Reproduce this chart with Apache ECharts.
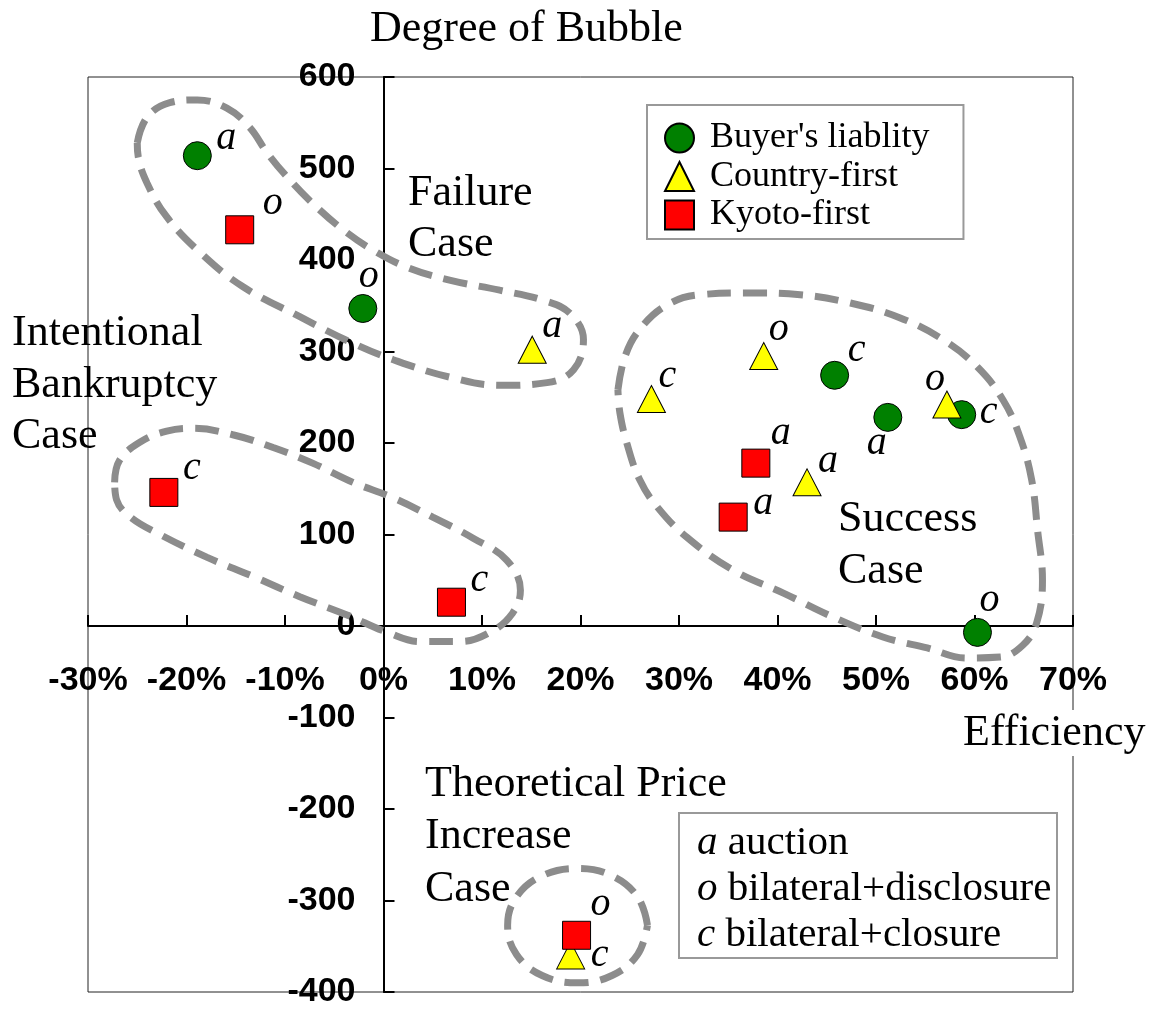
<!DOCTYPE html>
<html>
<head>
<meta charset="utf-8">
<script src="https://cdn.jsdelivr.net/npm/echarts@6/dist/echarts.min.js"></script>
<style>
  html, body { margin: 0; padding: 0; background: #fff; }
  #main { width: 1151px; height: 1012px; }
</style>
</head>
<body>
<div id="main"></div>
<script>
// efficiency (%) and degree of bubble for each rule
var buyerX = [-18.9, -2.1, 45.8, 51.2, 58.7, 60.3];
var buyerY = [514, 347, 274, 228, 231, -7];
var buyerTag = ['a', 'o', 'c', 'a', 'c', 'o'];

var countryX = [15.1, 27.2, 38.6, 43.0, 57.2, 19.0];
var countryY = [302, 248, 295, 157, 242, -360];
var countryTag = ['a', 'c', 'o', 'a', 'o', 'c'];

var kyotoX = [-14.6, -22.3, 6.9, 37.8, 35.5, 19.6];
var kyotoY = [433, 146, 26, 178, 119, -338];
var kyotoTag = ['o', 'c', 'c', 'a', 'a', 'o'];

var seriesNames = ["Buyer's liablity", 'Country-first', 'Kyoto-first'];

// axis ranges
var xMin = -30, xMax = 70, xStep = 10;
var yMin = -400, yMax = 600, yStep = 100;

// where the letter sits next to its marker (px)
var buyerOffsets = [[29, -17], [6, -32], [22, -25], [-11, 26], [27, -2], [12, -32]];
var countryOffsets = [[20, -23], [16, -23], [15, -27], [21, -21], [-12, -25], [29, 0]];
var kyotoOffsets = [[33, -26], [28, -24], [28, -22], [25, -30], [30, -14], [24, -31]];

// dashed outlines round the groups (x %, y)
var outlineFailure = [[-25.0, 528], [-24.0, 556], [-21.7, 572], [-18.9, 575], [-15.9, 566], [-13.6, 545],
  [-11.8, 517], [-9.8, 491], [-7.2, 462], [-4.1, 433], [-1.1, 411], [2.4, 392], [6.7, 378], [11.8, 367],
  [16.2, 356], [18.9, 342], [20.3, 313], [19.3, 280], [16.6, 266], [11.8, 263], [6.7, 272], [1.0, 291],
  [-3.1, 309], [-8.5, 338], [-14.3, 371], [-18.6, 408], [-22.0, 447], [-24.0, 484], [-24.9, 513], [-25.0, 528]];
var outlineBankruptcy = [[-27.3, 157], [-26.8, 181], [-24.7, 201], [-22.0, 213], [-19.3, 216], [-15.3, 209],
  [-11.2, 195], [-7.2, 178], [-3.1, 157], [1.0, 140], [5.0, 119], [9.1, 96], [12.5, 72], [13.9, 39],
  [13.1, 14], [10.8, -7], [7.8, -17], [3.7, -17], [0.4, -7], [-3.7, 12], [-8.5, 32], [-13.2, 54],
  [-17.9, 75], [-22.7, 100], [-25.7, 119], [-27.1, 138], [-27.3, 157]];
var outlineSuccess = [[23.8, 258], [24.5, 294], [26.0, 324], [28.8, 351], [32.1, 362], [37.2, 364],
  [42.3, 362], [47.4, 353], [52.4, 337], [56.8, 313], [60.3, 283], [62.9, 247], [64.6, 207], [65.8, 160],
  [66.4, 105], [66.9, 50], [66.3, 3], [64.9, -21], [62.6, -34], [59.2, -35], [55.2, -24], [50.7, -12],
  [45.6, 10], [40.6, 36], [35.5, 61], [30.8, 97], [27.8, 130], [26.0, 160], [24.7, 200], [24.0, 233], [23.8, 258]];
var outlineTheoretical = [[26.8, -327], [25.8, -296], [23.2, -273], [19.7, -265], [16.1, -273], [13.5, -296],
  [12.6, -327], [13.5, -359], [16.1, -382], [19.7, -390], [23.2, -382], [25.8, -359], [26.8, -327]];

var serif = 'Liberation Serif';
var gridLeft = 88, gridTop = 77, gridW = 985, gridH = 915;

function buildPoints(xs, ys, tags, offsets) {
    var pts = [];
    for (var i = 0; i < xs.length; i++) {
        pts.push({ value: [xs[i], ys[i]], name: tags[i], label: { offset: offsets[i] } });
    }
    return pts;
}

function outlineSeries(pts) {
    return {
        type: 'line',
        data: pts,
        smooth: 0.4,
        symbol: 'none',
        silent: true,
        z: 1,
        lineStyle: { color: '#8c8c8c', width: 7, type: [24, 12] }
    };
}

var pointLabel = {
    show: true,
    position: 'inside',
    formatter: '{b}',
    fontFamily: serif,
    fontStyle: 'italic',
    fontSize: 40,
    color: '#000'
};

var tickFont = { fontFamily: 'Liberation Sans', fontWeight: 'bold', fontSize: 34, color: '#000' };

var myChart = echarts.init(document.getElementById('main'));

var option = {
    backgroundColor: '#fff',
    animation: false,
    grid: {
        left: gridLeft, top: gridTop, width: gridW, height: gridH,
        containLabel: false, outerBoundsMode: 'none',
        show: true, borderColor: '#222', borderWidth: 1
    },
    xAxis: {
        type: 'value', min: xMin, max: xMax, interval: xStep,
        position: 'bottom',
        // move the axis up to y = 0
        offset: -gridH * (0 - yMin) / (yMax - yMin),
        splitLine: { show: false },
        axisLine: { onZero: false, lineStyle: { color: '#000', width: 2 } },
        axisTick: { inside: true, length: 11, lineStyle: { color: '#000', width: 2 } },
        axisLabel: Object.assign({ margin: 38, formatter: '{value}%', hideOverlap: false }, tickFont)
    },
    yAxis: {
        type: 'value', min: yMin, max: yMax, interval: yStep,
        position: 'left',
        // move the axis right to x = 0
        offset: -gridW * (0 - xMin) / (xMax - xMin),
        splitLine: { show: false },
        axisLine: { onZero: false, lineStyle: { color: '#000', width: 2 } },
        axisTick: { inside: true, length: 11, lineStyle: { color: '#000', width: 2 } },
        axisLabel: Object.assign({ margin: 28, hideOverlap: false }, tickFont)
    },
    legend: {
        data: seriesNames,
        orient: 'vertical',
        left: 647, top: 105,
        padding: [15, 34, 6, 17],
        itemWidth: 29, itemHeight: 29, itemGap: 2.5,
        borderColor: '#999', borderWidth: 2,
        textStyle: { fontFamily: serif, fontSize: 36, color: '#000', lineHeight: 29, padding: [0, 0, 0, 11] }
    },
    title: {
        text: '{i|a} auction\n{i|o} bilateral+disclosure\n{i|c} bilateral+closure',
        left: 679, top: 813,
        padding: [7, 6, 0, 18],
        borderColor: '#999', borderWidth: 2,
        textStyle: {
            fontFamily: serif, fontSize: 41, fontWeight: 'normal', color: '#000', lineHeight: 46,
            rich: { i: { fontFamily: serif, fontSize: 41, fontStyle: 'italic', lineHeight: 46 } }
        }
    },
    graphic: [
        { type: 'text', z: 100, style: { text: 'Degree of Bubble', x: 370, y: 6, fontFamily: serif, fontSize: 44, lineHeight: 46, fill: '#000' } },
        { type: 'text', z: 100, style: { text: 'Failure\nCase', x: 408, y: 168, fontFamily: serif, fontSize: 44, lineHeight: 51, fill: '#000' } },
        { type: 'text', z: 100, style: { text: 'Intentional\nBankruptcy\nCase', x: 12, y: 308, fontFamily: serif, fontSize: 44, lineHeight: 51.5, fill: '#000' } },
        { type: 'text', z: 100, style: { text: 'Success\nCase', x: 838, y: 493, fontFamily: serif, fontSize: 44, lineHeight: 52, fill: '#000' } },
        { type: 'text', z: 100, style: { text: 'Theoretical Price\nIncrease\nCase', x: 425, y: 758, fontFamily: serif, fontSize: 44, lineHeight: 52.5, fill: '#000' } },
        { type: 'text', z: 100, style: { text: 'Efficiency', x: 963, y: 710, fontFamily: serif, fontSize: 44, lineHeight: 46, fill: '#000', backgroundColor: '#fff' } }
    ],
    series: [
        outlineSeries(outlineFailure),
        outlineSeries(outlineBankruptcy),
        outlineSeries(outlineSuccess),
        outlineSeries(outlineTheoretical),
        {
            name: seriesNames[0], type: 'scatter', symbol: 'circle', symbolSize: 28, z: 3,
            itemStyle: { color: '#008000', borderColor: '#000', borderWidth: 1, opacity: 1 },
            label: pointLabel,
            data: buildPoints(buyerX, buyerY, buyerTag, buyerOffsets)
        },
        {
            name: seriesNames[1], type: 'scatter', symbol: 'triangle', symbolSize: [28, 27], z: 4,
            itemStyle: { color: '#ffff00', borderColor: '#000', borderWidth: 1, opacity: 1 },
            label: pointLabel,
            data: buildPoints(countryX, countryY, countryTag, countryOffsets)
        },
        {
            name: seriesNames[2], type: 'scatter', symbol: 'rect', symbolSize: 28, z: 5,
            itemStyle: { color: '#ff0000', borderColor: '#000', borderWidth: 1, opacity: 1 },
            label: pointLabel,
            data: buildPoints(kyotoX, kyotoY, kyotoTag, kyotoOffsets)
        }
    ]
};

myChart.setOption(option);
</script>
</body>
</html>
